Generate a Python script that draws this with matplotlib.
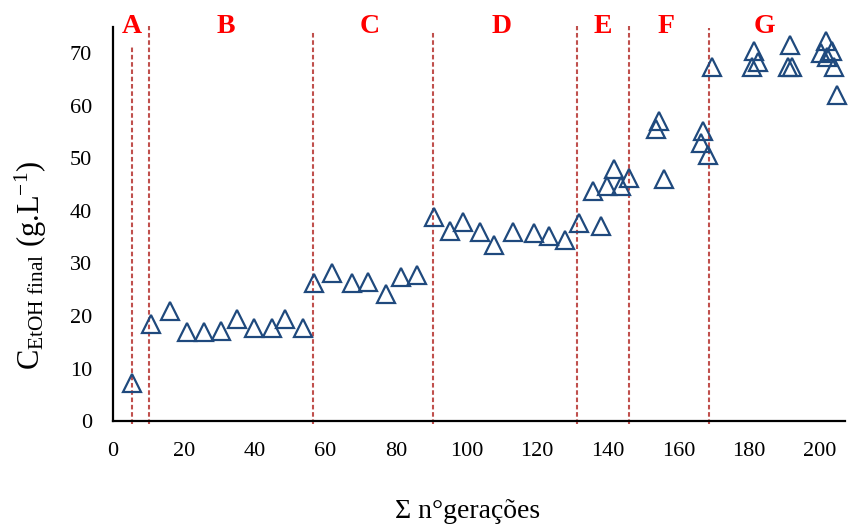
import matplotlib
matplotlib.use('Agg')
import matplotlib.pyplot as plt

plt.rcParams['font.family'] = ['Liberation Serif', 'DejaVu Serif']
plt.rcParams['mathtext.fontset'] = 'custom'
plt.rcParams['mathtext.rm'] = 'Liberation Serif'
plt.rcParams['mathtext.it'] = 'Liberation Serif:italic'

# accumulated generations vs final ethanol concentration
geracoes = [5.5, 10.7, 16.1, 20.9, 25.8, 30.6, 35.1, 39.9, 45.1, 48.8, 53.7,
            56.9, 62.0, 67.6, 72.2, 77.2, 81.5, 86.1,
            90.8, 95.3, 99.1, 103.8, 107.8, 113.2, 119.1, 123.4, 127.9,
            131.7, 135.9, 138.0, 139.8, 141.7, 143.6, 146.0,
            153.6, 154.5, 155.9, 166.3, 167.0, 168.2,
            169.4, 180.9, 181.3, 182.5, 191.0, 191.5, 192.0,
            200.2, 201.6, 201.9, 203.5, 204.0, 204.7]
etoh = [7.2, 18.5, 21.0, 17.0, 17.0, 17.2, 19.4, 17.8, 17.7, 19.4, 17.8,
        26.3, 28.2, 26.2, 26.4, 24.2, 27.4, 27.8,
        38.8, 36.1, 37.9, 36.0, 33.6, 36.0, 35.8, 35.3, 34.5,
        37.7, 43.8, 37.1, 44.8, 47.9, 44.8, 46.3,
        55.5, 57.2, 46.1, 53.0, 55.2, 50.7,
        67.4, 67.4, 70.4, 68.3, 67.4, 71.5, 67.3,
        70.0, 72.3, 69.2, 70.4, 67.4, 62.0]

# phase boundaries and labels
limites = [5.4, 10.2, 56.6, 90.5, 131.3, 146.0, 168.6]
limites_topo = [71.1, 75.1, 74.0, 74.2, 75.1, 75.1, 74.8]
fases = ['A', 'B', 'C', 'D', 'E', 'F', 'G']
fases_x = [5.4, 32.0, 72.7, 110.0, 138.6, 156.4, 184.2]

fig = plt.figure(figsize=(8.54, 5.25), dpi=100)
ax = fig.add_axes([0.1323, 0.198, 0.8572, 0.7506])

for xl, top in zip(limites, limites_topo):
    ax.plot([xl, xl], [-0.6, top], color='#C0504D', lw=1.5,
            linestyle=(0, (2.2, 1.3)), clip_on=False, zorder=1)

ax.plot(geracoes, etoh, linestyle='none', marker='^', markersize=12.5,
        markerfacecolor='none', markeredgecolor='#1F497D',
        markeredgewidth=1.6, zorder=3, clip_on=False)

for nome, xf in zip(fases, fases_x):
    ax.text(xf, 75.0, nome, color='#FF0000', fontsize=20, fontweight='bold',
            ha='center', va='center', clip_on=False)

ax.set_xlim(0, 207.1)
ax.set_ylim(0, 75)
ax.set_xticks(range(0, 201, 20))
ax.set_yticks(range(0, 71, 10))
ax.tick_params(length=0, labelsize=16, pad=15)

for s in ['top', 'right']:
    ax.spines[s].set_visible(False)
for s in ['left', 'bottom']:
    ax.spines[s].set_linewidth(1.6)
    ax.spines[s].set_color('black')

fig.text(0.547, 1 - 512 / 525, 'Σ n°gerações', fontsize=20,
         ha='center', va='center')
fig.text(0.036, 1 - 265 / 525,
         r'C$_{\rm EtOH\ final}$ (g.$\mathrm{L}^{-1}$)', fontsize=22,
         rotation=90, ha='center', va='center')

fig.savefig('out.png', dpi=100)
